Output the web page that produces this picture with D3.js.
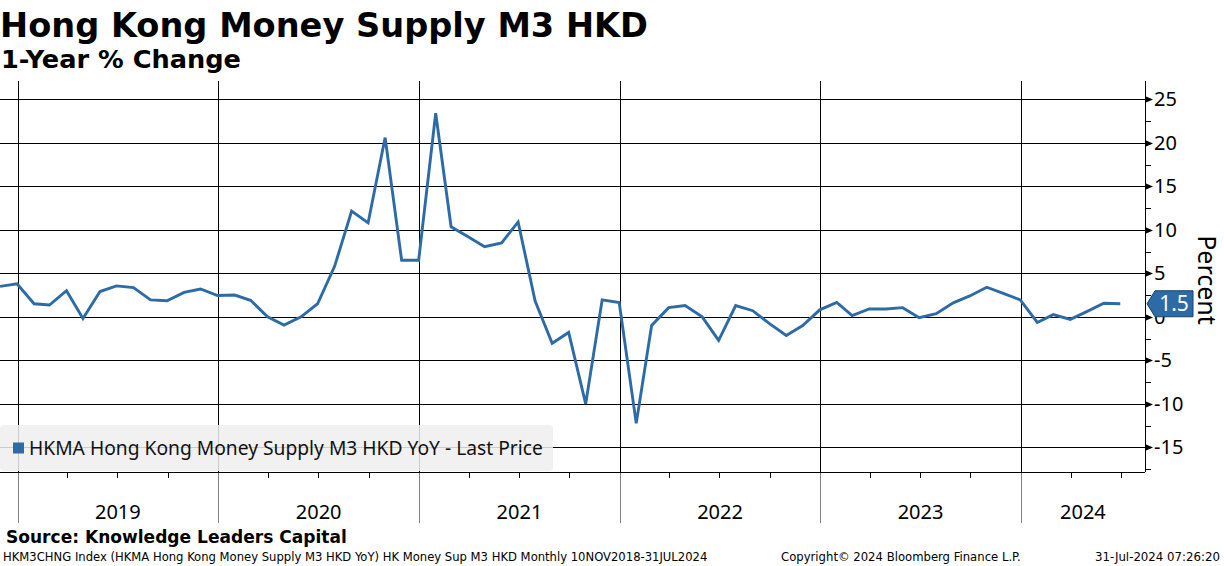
<!DOCTYPE html>
<html>
<head>
<meta charset="utf-8">
<script src="https://cdn.jsdelivr.net/npm/d3@7"></script>
<style>
  body { margin: 0; background: #fff; }
  svg { display: block; }
</style>
</head>
<body>
<svg id="chart"></svg>
<script>
// monthly series, Nov 2018 .. Jun 2024, plotted at month end
var firstMonth = "2018-11";
var lastMonth = "2024-06";
var values = [
  3.5, 3.8,
  1.5, 1.35, 3.0, -0.2, 2.9, 3.55, 3.35, 1.95, 1.85, 2.8, 3.2, 2.45,
  2.5, 1.9, 0.0, -0.95, 0.0, 1.5, 5.8, 12.15, 10.8, 20.6, 6.5, 6.5,
  23.4, 10.35, 9.2, 8.05, 8.5, 10.9, 1.8, -3.05, -1.8, -10.0, 1.95, 1.65,
  -12.25, -1.0, 1.05, 1.3, 0.0, -2.7, 1.3, 0.7, -0.75, -2.15, -1.0, 0.8,
  1.65, 0.15, 0.9, 0.9, 1.05, -0.1, 0.35, 1.6, 2.4, 3.4, 2.7, 1.95,
  -0.65, 0.25, -0.3, 0.6, 1.55, 1.5
];
var yearLabels = ["2019", "2020", "2021", "2022", "2023", "2024"];
var yTicks = [-15, -10, -5, 0, 5, 10, 15, 20, 25];
var yMinorTicks = [-17.5, -12.5, -7.5, -2.5, 2.5, 7.5, 12.5, 17.5, 22.5];
var lastLabel = "1.5";

var title = "Hong Kong Money Supply M3 HKD";
var subtitle = "1-Year % Change";
var legendText = "HKMA Hong Kong Money Supply M3 HKD YoY - Last Price";
var axisTitle = "Percent";
var source = "Source: Knowledge Leaders Capital";
var footLeft = "HKM3CHNG Index (HKMA Hong Kong Money Supply M3 HKD YoY) HK Money Sup M3 HKD  Monthly 10NOV2018-31JUL2024";
var footMid = "Copyright\u00A9 2024 Bloomberg Finance L.P.";
var footRight = "31-Jul-2024 07:26:20";

var width = 1224, height = 566;
var plotRight = 1145, plotTop = 81, plotBottom = 472, bandBottom = 523;
var blue = "#2d6ba6";
var sans = "'Noto Sans', 'DejaVu Sans', sans-serif";
var bold = "'DejaVu Sans', Verdana, sans-serif";
var narrow = "'DejaVu Sans Condensed', 'DejaVu Sans', sans-serif";

var parseMonth = d3.timeParse("%Y-%m");
var months = d3.timeMonth.range(parseMonth(firstMonth), d3.timeMonth.offset(parseMonth(lastMonth), 1));
var data = months.map(function (m, i) {
  return { date: d3.timeDay.offset(d3.timeMonth.offset(m, 1), -1), value: values[i] };
});

var svg = d3.select("#chart")
  .attr("width", width)
  .attr("height", height);

var x = d3.scaleTime()
  .domain([new Date(2018, 10, 30), new Date(2024, 7, 14)])
  .range([0, plotRight]);

var y = d3.scaleLinear()
  .domain([-15, 25])
  .range([447.3, 99.3]);

// squeeze/stretch font size so a text fills a given width
function fitText(sel, w) {
  var n = sel.node();
  var size = parseFloat(sel.attr("font-size"));
  var len = n.getComputedTextLength();
  if (len > 0) sel.attr("font-size", (size * w / len).toFixed(2));
  return sel;
}

// horizontal grid
svg.append("g")
  .selectAll("line")
  .data(yTicks).enter()
  .append("line")
  .attr("x1", 0).attr("x2", plotRight)
  .attr("y1", function (d) { return Math.round(y(d)) + 0.5; })
  .attr("y2", function (d) { return Math.round(y(d)) + 0.5; })
  .attr("stroke", "#000").attr("stroke-width", 1);

// year lines
var years = yearLabels.map(function (d) { return new Date(+d, 0, 1); });
var yearG = svg.append("g");
yearG.selectAll("line.in")
  .data(years).enter()
  .append("line")
  .attr("class", "in")
  .attr("x1", function (d) { return Math.round(x(d)) + 0.5; })
  .attr("x2", function (d) { return Math.round(x(d)) + 0.5; })
  .attr("y1", plotTop).attr("y2", plotBottom)
  .attr("stroke", "#000");
yearG.selectAll("line.out")
  .data(years).enter()
  .append("line")
  .attr("class", "out")
  .attr("x1", function (d) { return Math.round(x(d)) + 0.5; })
  .attr("x2", function (d) { return Math.round(x(d)) + 0.5; })
  .attr("y1", plotBottom).attr("y2", bandBottom)
  .attr("stroke", "#808080");

// quarter ticks under the plot
var quarters = d3.timeMonth.every(3).range(new Date(2018, 11, 1), new Date(2024, 7, 1))
  .filter(function (d) { return d.getMonth() !== 0; });
svg.append("g")
  .selectAll("line")
  .data(quarters).enter()
  .append("line")
  .attr("x1", function (d) { return Math.round(x(d)) + 0.5; })
  .attr("x2", function (d) { return Math.round(x(d)) + 0.5; })
  .attr("y1", plotBottom).attr("y2", plotBottom + 6)
  .attr("stroke", "#000");

// bottom border
svg.append("line")
  .attr("x1", 0).attr("x2", plotRight)
  .attr("y1", plotBottom + 0.5).attr("y2", plotBottom + 0.5)
  .attr("stroke", "#000");

// year labels
svg.append("g")
  .selectAll("text")
  .data(years).enter()
  .append("text")
  .attr("x", function (d, i) {
    var end = i < years.length - 1 ? years[i + 1] : x.domain()[1];
    return (x(d) + x(end)) / 2;
  })
  .attr("y", 519)
  .attr("text-anchor", "middle")
  .attr("font-family", sans)
  .attr("font-size", 20)
  .attr("fill", "#000")
  .text(function (d, i) { return yearLabels[i]; });

// right axis
var axisG = svg.append("g");
axisG.append("line")
  .attr("x1", plotRight + 0.5).attr("x2", plotRight + 0.5)
  .attr("y1", plotTop).attr("y2", plotBottom)
  .attr("stroke", "#000");
axisG.selectAll("path.major")
  .data(yTicks).enter()
  .append("path")
  .attr("class", "major")
  .attr("d", function (d) {
    var yy = Math.round(y(d)) + 0.5;
    return "M" + (plotRight + 1) + "," + (yy - 3) + "L" + (plotRight + 8) + "," + yy + "L" + (plotRight + 1) + "," + (yy + 3) + "Z";
  })
  .attr("fill", "#000");
axisG.selectAll("line.minor")
  .data(yMinorTicks).enter()
  .append("line")
  .attr("class", "minor")
  .attr("x1", plotRight).attr("x2", plotRight + 6)
  .attr("y1", function (d) { return Math.round(y(d)) + 0.5; })
  .attr("y2", function (d) { return Math.round(y(d)) + 0.5; })
  .attr("stroke", "#000");
axisG.selectAll("text")
  .data(yTicks).enter()
  .append("text")
  .attr("x", plotRight + 9)
  .attr("y", function (d) { return y(d) + 7; })
  .attr("font-family", sans)
  .attr("font-size", 20)
  .attr("fill", "#000")
  .text(function (d) { return d; });

svg.append("text")
  .attr("transform", "translate(1198,280) rotate(90)")
  .attr("text-anchor", "middle")
  .attr("font-family", sans)
  .attr("font-size", 25)
  .attr("fill", "#000")
  .text(axisTitle);

// the series
var line = d3.line()
  .x(function (d) { return x(d.date); })
  .y(function (d) { return y(d.value); });

svg.append("path")
  .datum(data)
  .attr("d", line)
  .attr("fill", "none")
  .attr("stroke", blue)
  .attr("stroke-width", 2.9)
  .attr("stroke-linejoin", "miter");

// last value tag
var last = data[data.length - 1];
var ty = y(last.value);
svg.append("path")
  .attr("d", "M" + (plotRight + 2) + "," + ty +
    "L" + (plotRight + 10) + "," + (ty - 13) +
    "L" + (plotRight + 48) + "," + (ty - 13) +
    "L" + (plotRight + 48) + "," + (ty + 13) +
    "L" + (plotRight + 10) + "," + (ty + 13) + "Z")
  .attr("fill", blue)
  .attr("stroke", "#1c3f66")
  .attr("stroke-width", 1);
svg.append("text")
  .attr("x", plotRight + 29)
  .attr("y", ty + 7.5)
  .attr("text-anchor", "middle")
  .attr("font-family", sans)
  .attr("font-size", 21)
  .attr("fill", "#fff")
  .text(lastLabel);

// legend
var legend = svg.append("g");
legend.append("rect")
  .attr("x", 0).attr("y", 425)
  .attr("width", 553).attr("height", 46)
  .attr("rx", 4)
  .attr("fill", "#eeeeee")
  .attr("fill-opacity", 0.85);
legend.append("rect")
  .attr("x", 13).attr("y", 442.5)
  .attr("width", 11).attr("height", 11)
  .attr("fill", blue);
fitText(legend.append("text")
  .attr("x", 29).attr("y", 455)
  .attr("font-family", sans)
  .attr("font-size", 18)
  .attr("fill", "#111")
  .text(legendText), 514);

// titles
fitText(svg.append("text")
  .attr("x", 0).attr("y", 37)
  .attr("font-family", bold)
  .attr("font-weight", "bold")
  .attr("font-size", 33)
  .attr("fill", "#000")
  .text(title), 648);

fitText(svg.append("text")
  .attr("x", 1).attr("y", 68)
  .attr("font-family", bold)
  .attr("font-weight", "bold")
  .attr("font-size", 25)
  .attr("fill", "#000")
  .text(subtitle), 240);

// footer
fitText(svg.append("text")
  .attr("x", 6).attr("y", 543)
  .attr("font-family", bold)
  .attr("font-weight", "bold")
  .attr("font-size", 17)
  .attr("fill", "#000")
  .text(source), 341);

var foot = [
  { t: footLeft, x: 3, w: 705 },
  { t: footMid, x: 781, w: 240 },
  { t: footRight, x: 1095, w: 125 }
];
foot.forEach(function (f) {
  fitText(svg.append("text")
    .attr("x", f.x).attr("y", 561)
    .attr("font-family", narrow)
    .attr("font-size", 12)
    .attr("fill", "#000")
    .text(f.t), f.w);
});
</script>
</body>
</html>
